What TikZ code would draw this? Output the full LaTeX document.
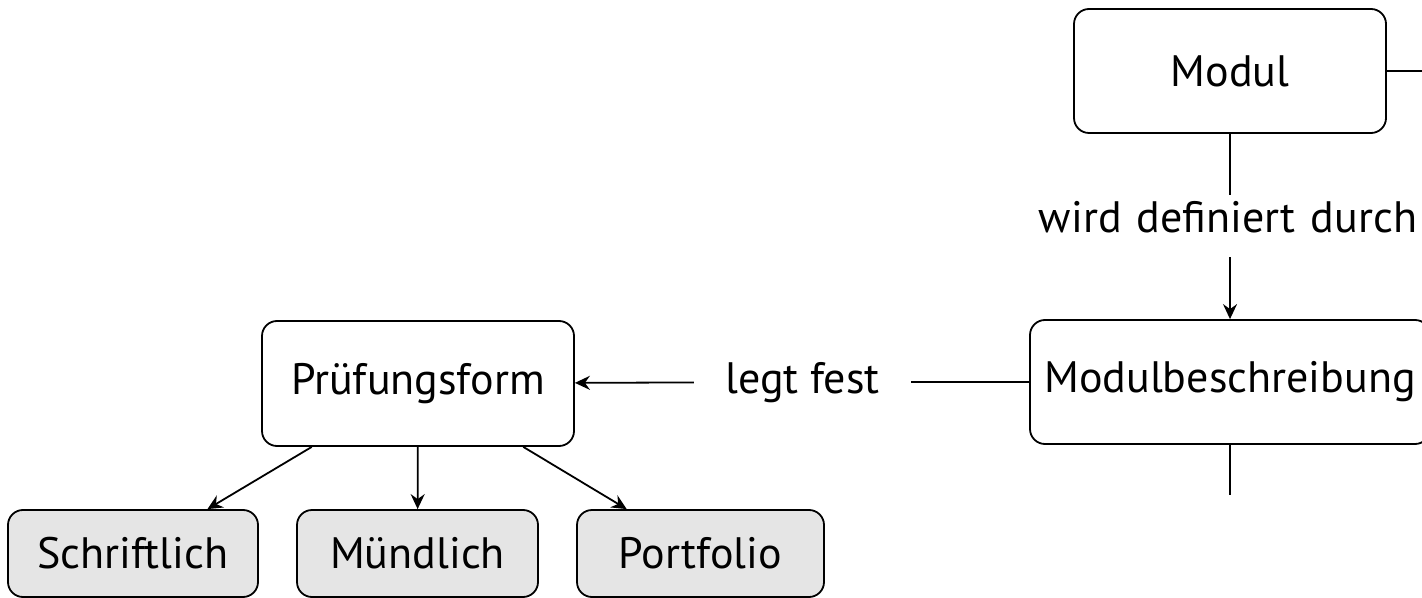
\documentclass[tikz,border=0pt]{standalone}
\usepackage{fontspec}
\setmainfont{PT Sans}
\usetikzlibrary{arrows.meta}
\newcommand{\widesp}{\spaceskip=7.5pt plus 1pt\relax}
\begin{document}
\begin{tikzpicture}[x=0.5pt,y=-0.5pt,
  font=\fontsize{22pt}{26pt}\selectfont,
  box/.style={draw, line width=0.9pt, rounded corners=7.5pt, align=center, inner sep=0pt},
  leaf/.style={box, fill=gray!20},
  lab/.style={inner xsep=15.5pt, inner ysep=0pt, text height=19pt, text depth=12pt},
  labh/.style={lab, text height=21pt, text depth=10pt},
  conn/.style={line width=0.9pt},
  arr/.style={conn, -{Stealth[length=7.5pt,width=7pt,inset=2.5pt]}}]
\useasboundingbox (0,0) rectangle (1422,598);
\node[box, minimum width=156pt, minimum height=62pt] (modul) at (1230,71) {Modul};
\node[box, minimum width=200pt, minimum height=62pt] (mb) at (1230,382) {Modulbeschreibung};
\node[box, minimum width=156pt, minimum height=62.5pt] (pf) at (418,383.5) {Prüfungsform};
\node[leaf, minimum width=125pt, minimum height=43.5pt] (s) at (133,553.5) {Schriftlich};
\node[leaf, minimum width=120.5pt, minimum height=43.5pt] (m) at (417.5,553.5) {Mündlich};
\node[leaf, minimum width=123.5pt, minimum height=43.5pt] (p) at (700.5,553.5) {Portfolio};
\node[lab] (wd) at (1228,226) {\widesp wird definiert durch};
\node[labh] (lf) at (802.5,382) {legt fest};
\coordinate (mr) at (1450,71);
\coordinate (mbd) at (1230,495);
\draw[conn] (modul.east) -- (mr);
\draw[conn] (modul.south) -- (modul.south |- wd.north);
\draw[arr] (mb.north |- wd.south) -- (mb.north);
\draw[conn] (mb.south) -- (mbd);
\draw[conn] (mb) -- (lf);
\draw[arr] (lf) -- (pf);
\draw[arr] (pf) -- (s);
\draw[arr] (pf) -- (m);
\draw[arr] (pf) -- (p);
\end{tikzpicture}
\end{document}
